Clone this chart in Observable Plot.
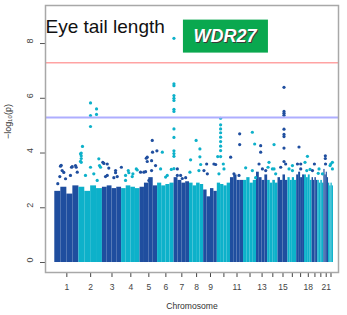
<!DOCTYPE html>
<html><head><meta charset="utf-8">
<script src="https://cdn.jsdelivr.net/npm/d3@7"></script>
<script src="https://cdn.jsdelivr.net/npm/@observablehq/plot@0.6"></script>
<style>body{margin:0;background:#fff;} #chart{width:347px;height:315px;}</style>
</head><body><div id="chart"></div>
<script>
// Chromosomes and their lengths (Mb)
const chromosomes = ["1","2","3","4","5","6","7","8","9","10","11","12","13","14","15","16","17","18","19","20","21","22"];
const chromLengths = [249,243,198,191,181,171,159,146,141,136,135,134,115,107,103,90,81,78,59,63,48,51];
const shownLabels = ["1","2","3","4","5","6","7","8","9","11","13","15","18","21"];
const yTicks = [0, 2, 4, 6, 8];
// top of the dense band of SNPs, per chromosome quarter (-log10 p)
const bandTops = [
  [2.6,2.75,2.5,2.8],[2.75,2.6,2.8,2.7],[2.75,2.8,2.7,2.75],[2.7,2.8,2.75,2.7],
  [2.75,2.9,3.1,2.8],[2.9,2.8,2.85,2.9],[3.1,3.0,2.9,2.95],[2.9,2.8,2.9,2.85],
  [2.65,2.4,2.7,2.6],[2.9,2.85,2.8,2.9],[3.1,3.2,3.0,3.0],[3.0,3.1,2.9,3.0],
  [3.3,3.1,3.0,3.2],[3.0,2.9,3.0,2.9],[3.1,3.0,3.2,3.0],[3.1,3.0,3.1,3.0],
  [3.2,3.3,3.1,3.2],[3.2,3.1,3.2,3.0],[3.1,3.0,3.1,3.0],[3.0,2.9,3.0,2.9],
  [3.4,3.2,3.3,3.1],[2.9,2.8,2.9,2.8]
];
// individual SNPs above the dense band: [cumulative position Mb, -log10 p]
const hits = [
  [31,2.88],[52,3.14],[59,3.52],[66,3.55],[76,3.36],[93,3.29],[111,3.06],[162,3.18],[173,3.48],[180,3.5],[214,3.54],[221,3.48],[232,3.3],
  [266,3.97],[266,3.7],[273,4.0],[273,3.9],[273,3.8],[273,3.66],[286,4.24],[317,3.18],[369,5.83],[369,5.37],[369,4.97],[369,3.48],[403,3.24],[431,5.61],[431,5.41],[438,3.0],[455,3.79],[462,3.54],[473,3.48],
  [496,3.66],[507,3.62],[524,3.14],[542,3.6],[542,3.18],[558,3.45],[610,3.1],[628,3.36],[628,3.28],[645,3.14],[688,3.48],
  [731,3.18],[731,3.0],[759,3.36],[765,3.28],[800,3.14],[807,3.24],[842,3.42],[852,3.38],
  [886,3.3],[920,3.3],[938,3.32],[945,3.81],[955,3.69],[955,3.85],[972,3.0],[1000,3.72],[1000,3.36],[1007,4.46],[1010,4.03],[1041,3.54],[1055,4.08],
  [1093,3.42],[1111,4.03],[1145,3.12],[1162,3.18],[1204,3.4],
  [1231,8.19],[1231,6.53],[1231,6.46],[1231,6.1],[1231,6.0],[1231,5.92],[1231,5.6],[1231,5.52],[1231,4.88],[1231,4.57],[1231,4.08],[1231,3.98],[1231,3.88],[1231,3.43],
  [1266,3.18],[1266,3.42],[1300,3.18],[1317,3.07],[1352,3.1],
  [1396,3.3],[1403,3.75],[1460,4.46],[1489,3.36],[1499,4.15],[1499,3.86],[1507,3.58],
  [1541,3.36],[1569,3.6],[1576,3.24],[1644,3.6],[1662,3.58],
  [1683,3.87],[1696,3.24],[1713,5.27],[1713,5.03],[1713,4.88],[1713,4.74],[1713,4.58],[1713,4.42],[1713,4.25],[1713,4.09],[1713,3.87],[1741,3.6],[1748,3.42],
  [1817,3.85],[1851,3.24],[1903,3.18],[1910,4.7],[1910,4.31],
  [1972,3.46],[2041,4.76],[2041,3.36],[2065,4.33],[2075,3.1],
  [2110,3.6],[2127,4.27],[2127,4.03],[2145,3.42],[2179,3.36],
  [2203,3.48],[2213,3.66],[2248,3.42],[2265,4.31],[2265,3.42],[2282,3.24],
  [2334,3.48],[2368,6.4],[2368,5.52],[2368,5.45],[2368,5.38],[2368,4.87],[2368,4.68],[2368,4.6],[2368,4.18],[2368,3.69],[2385,3.6],
  [2420,3.42],[2455,3.54],[2455,3.36],
  [2507,3.6],[2523,4.22],[2541,3.6],[2541,3.42],
  [2585,3.66],[2603,3.36],[2610,3.88],[2637,3.4],
  [2662,3.36],[2682,3.6],
  [2722,3.26],[2730,3.42],[2765,3.24],
  [2795,3.9],[2795,3.8],[2797,3.6],
  [2844,3.54],[2851,3.6],[2868,3.66],[2868,3.42]
];
const genomeWideLine = 7.3;
const suggestiveLine = 5.3;
const geneLabel = {text: "WDR27", pos: 1231, val: 8.19};
const titleText = "Eye tail length";

const colors = ["#1f4e9f", "#0db1ca"];
const starts = [];
{ let s = 0; for (const l of chromLengths) { starts.push(s); s += l; } }
const centers = chromLengths.map((l, i) => starts[i] + l / 2);
const labelMap = new Map(centers.map((c, i) => [c, shownLabels.includes(chromosomes[i]) ? chromosomes[i] : ""]));
const chrIndex = pos => { let k = 0; for (let i = 0; i < starts.length; i++) if (pos >= starts[i]) k = i; return k; };

const bands = [];
bandTops.forEach((tops, i) => tops.forEach((t, q) => bands.push({
  x1: starts[i] + chromLengths[i] * q / 4, x2: starts[i] + chromLengths[i] * (q + 1) / 4, top: t, c: colors[i % 2]
})));
const hitData = hits.map(([pos, val]) => ({pos, val, c: colors[chrIndex(pos) % 2]}));

const plot = Plot.plot({
  width: 347, height: 315,
  marginLeft: 45, marginRight: 9, marginTop: 5, marginBottom: 43,
  style: {fontFamily: "'Liberation Sans', Arial, sans-serif", background: "#fff"},
  x: {domain: [-96, 2931], label: null},
  y: {domain: [-0.365, 9.39], label: null},
  color: {type: "identity"},
  marks: [
    Plot.rect(bands, {x1: "x1", x2: "x2", y1: 0, y2: "top", fill: "c"}),
    Plot.dot(hitData, {x: "pos", y: "val", r: 1.6, fill: "c", stroke: null}),
    Plot.ruleY([genomeWideLine], {stroke: "#ffa3a3", strokeWidth: 1.5}),
    Plot.ruleY([suggestiveLine], {stroke: "#aeaeff", strokeWidth: 2}),
    Plot.axisX({ticks: centers, tickFormat: d => labelMap.get(d) ?? "", tickSize: 5, tickPadding: 6, fontSize: 8.5, color: "#444", label: null}),
    Plot.axisY({ticks: yTicks, tickSize: 5, tickFormat: () => "", color: "#555", label: null}),
    Plot.text(yTicks, {y: d => d, frameAnchor: "left", dx: -15, rotate: -90, text: d => String(d), fontSize: 9, fill: "#444"}),
    Plot.text(["−log₁₀(p)"], {frameAnchor: "left", dx: -37, rotate: -90, text: d => d, fontSize: 9, fill: "#333"}),
    Plot.text(["Chromosome"], {frameAnchor: "bottom", dy: 36, text: d => d, fontSize: 8.6, fill: "#333"}),
    Plot.text([titleText], {frameAnchor: "top-left", dx: 0, dy: 14, textAnchor: "start", lineAnchor: "top", text: d => d, fontSize: 19, fill: "#111"}),
    Plot.text([geneLabel], {x: "pos", y: "val", text: "text", dx: 52, dy: -1, fontSize: 18, fontWeight: "bold", fontStyle: "italic", fill: "#3a3a3a"}),
    Plot.text([geneLabel], {x: "pos", y: "val", text: "text", dx: 51, dy: -2, fontSize: 18, fontWeight: "bold", fontStyle: "italic", fill: "#fff"}),
    Plot.frame({stroke: "#a8a8a8", strokeWidth: 1.5})
  ]
});
document.getElementById("chart").appendChild(plot);

// green box behind the gene label
const labelTexts = Array.from(plot.querySelectorAll("text")).filter(t => t.textContent === geneLabel.text);
if (labelTexts.length) {
  const white = labelTexts[labelTexts.length - 1];
  const bb = white.getBBox();
  const ctm = white.getCTM();
  const cx = bb.x + bb.width / 2 + (ctm ? ctm.e : 0);
  const cy = bb.y + bb.height / 2 + (ctm ? ctm.f : 0);
  const rect = document.createElementNS("http://www.w3.org/2000/svg", "rect");
  rect.setAttribute("x", cx - 42.5);
  rect.setAttribute("y", cy - 16.5);
  rect.setAttribute("width", 85);
  rect.setAttribute("height", 33);
  rect.setAttribute("fill", "#0aa84f");
  const g = labelTexts[0].closest("g[aria-label]") || labelTexts[0].parentNode;
  g.parentNode.insertBefore(rect, g);
}
</script></body></html>
